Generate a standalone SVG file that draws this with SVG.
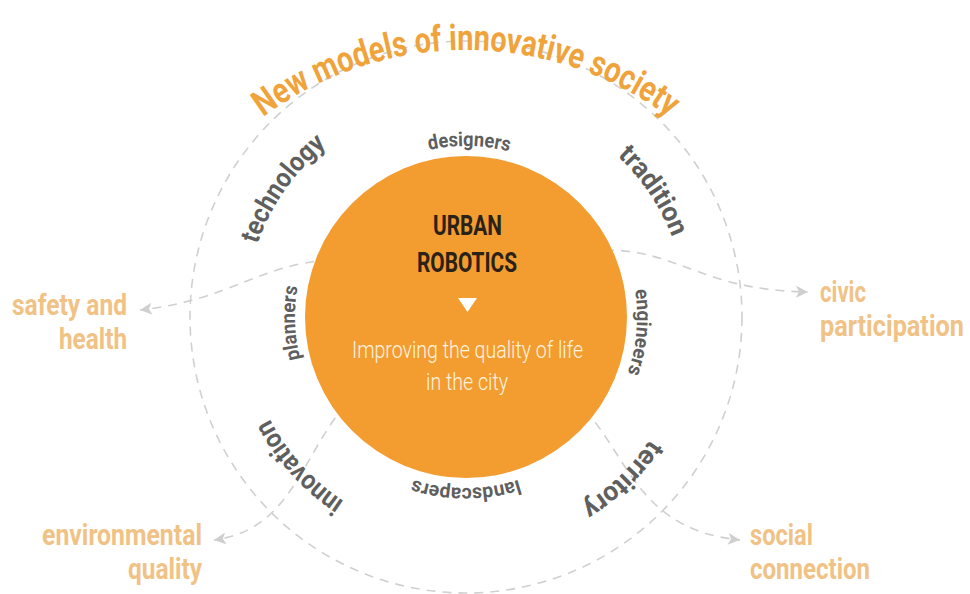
<svg xmlns="http://www.w3.org/2000/svg" width="970" height="594" viewBox="0 0 970 594">
<defs>
<style>
.dash{fill:none;stroke:#d0d0d0;stroke-width:1.6;stroke-dasharray:9 7}
.f{font-family:Roboto,"Liberation Sans",sans-serif;font-weight:700}
.ring{fill:#5f5f5f}
.inner{font-size:20px}
.outer{font-size:27px}
.title{font-size:36px;fill:#EFA33A}
.lbl{font-size:29px;fill:#F0C285}
.core{font-size:28px;fill:#2a2118}
.sub{font-family:Roboto,"Liberation Sans",sans-serif;font-weight:300;font-size:24px;fill:#FFF4E0}
</style>
<path id="pInB" d="M 466 488 A 171 171 0 1 1 466 146 A 171 171 0 1 1 466 488"/>
<path id="pInT" d="M 466 146 A 171 171 0 1 1 466 488 A 171 171 0 1 1 466 146"/>
<path id="pOutB" d="M 466 538 A 221 221 0 1 1 466 96 A 221 221 0 1 1 466 538"/>
<path id="pOutT" d="M 466 96 A 221 221 0 1 1 466 538 A 221 221 0 1 1 466 96"/>
<path id="pTitle" d="M 126 390 A 340 340 0 0 1 806 390"/>
<marker id="ah" markerUnits="userSpaceOnUse" markerWidth="14" markerHeight="12" refX="12" refY="6" orient="auto"><path d="M0,0 L12,6 L0,12 L3,6 z" fill="#cfcfcf"/></marker>
</defs>
<rect width="970" height="594" fill="#ffffff"/>
<g id="outer-ring">
<circle class="dash" cx="466" cy="317" r="276"/>
</g>
<g id="connectors">
<path class="dash" d="M 330 260 C 260 264, 230 300, 140 310" marker-end="url(#ah)"/>
<path class="dash" d="M 605 250 C 680 250, 700 290, 808 292" marker-end="url(#ah)"/>
<path class="dash" d="M 345 405 C 300 460, 290 530, 214 540" marker-end="url(#ah)"/>
<path class="dash" d="M 585 410 C 630 460, 640 530, 740 540" marker-end="url(#ah)"/>
</g>
<g id="core">
<circle cx="466" cy="317" r="161" fill="#F39C2F"/>
<text class="f core" transform="translate(433,235) scale(0.75,1)" textLength="92" lengthAdjust="spacingAndGlyphs">URBAN</text>
<text class="f core" transform="translate(417,272) scale(0.75,1)" textLength="133.3" lengthAdjust="spacingAndGlyphs">ROBOTICS</text>
<polygon points="458,298 477,298 467.5,312" fill="#ffffff"/>
<text class="sub" transform="translate(352,358) scale(0.8,1)" textLength="288.8" lengthAdjust="spacingAndGlyphs">Improving the quality of life</text>
<text class="sub" transform="translate(426,390) scale(0.8,1)" textLength="102.5" lengthAdjust="spacingAndGlyphs">in the city</text>
</g>
<g id="title">
<text class="f title"><textPath href="#pTitle" startOffset="316.5" textLength="435" lengthAdjust="spacingAndGlyphs">New models of innovative society</textPath></text>
</g>
<g id="designers"><text class="f ring inner"><textPath href="#pInB" startOffset="499.7" textLength="81" lengthAdjust="spacingAndGlyphs">designers</textPath></text></g>
<g id="planners"><text class="f ring inner"><textPath href="#pInB" startOffset="226.1" textLength="73" lengthAdjust="spacingAndGlyphs">planners</textPath></text></g>
<g id="engineers"><text class="f ring inner"><textPath href="#pInT" startOffset="241" textLength="85" lengthAdjust="spacingAndGlyphs">engineers</textPath></text></g>
<g id="landscapers"><text class="f ring inner"><textPath href="#pInT" startOffset="483.7" textLength="107" lengthAdjust="spacingAndGlyphs">landscapers</textPath></text></g>
<g id="technology"><text class="f ring outer"><textPath href="#pOutB" startOffset="421.2" textLength="122" lengthAdjust="spacingAndGlyphs">technology</textPath></text></g>
<g id="innovation"><text class="f ring outer"><textPath href="#pOutB" startOffset="129.1" textLength="112" lengthAdjust="spacingAndGlyphs">innovation</textPath></text></g>
<g id="tradition"><text class="f ring outer"><textPath href="#pOutT" startOffset="166.5" textLength="99" lengthAdjust="spacingAndGlyphs">tradition</textPath></text></g>
<g id="territory"><text class="f ring outer"><textPath href="#pOutT" startOffset="476.6" textLength="96" lengthAdjust="spacingAndGlyphs">territory</textPath></text></g>
<g id="safety-health">
<text class="f lbl" transform="translate(12,315) scale(0.85,1)" textLength="135.3" lengthAdjust="spacingAndGlyphs">safety and</text>
<text class="f lbl" transform="translate(59,349) scale(0.85,1)" textLength="80" lengthAdjust="spacingAndGlyphs">health</text>
</g>
<g id="civic-participation">
<text class="f lbl" transform="translate(820,302) scale(0.85,1)" textLength="54.1" lengthAdjust="spacingAndGlyphs">civic</text>
<text class="f lbl" transform="translate(820,336) scale(0.85,1)" textLength="169.4" lengthAdjust="spacingAndGlyphs">participation</text>
</g>
<g id="environmental-quality">
<text class="f lbl" transform="translate(42,545) scale(0.85,1)" textLength="188.2" lengthAdjust="spacingAndGlyphs">environmental</text>
<text class="f lbl" transform="translate(128,579) scale(0.85,1)" textLength="87.1" lengthAdjust="spacingAndGlyphs">quality</text>
</g>
<g id="social-connection">
<text class="f lbl" transform="translate(750,545) scale(0.85,1)" textLength="74.1" lengthAdjust="spacingAndGlyphs">social</text>
<text class="f lbl" transform="translate(750,579) scale(0.85,1)" textLength="141.2" lengthAdjust="spacingAndGlyphs">connection</text>
</g>
</svg>
